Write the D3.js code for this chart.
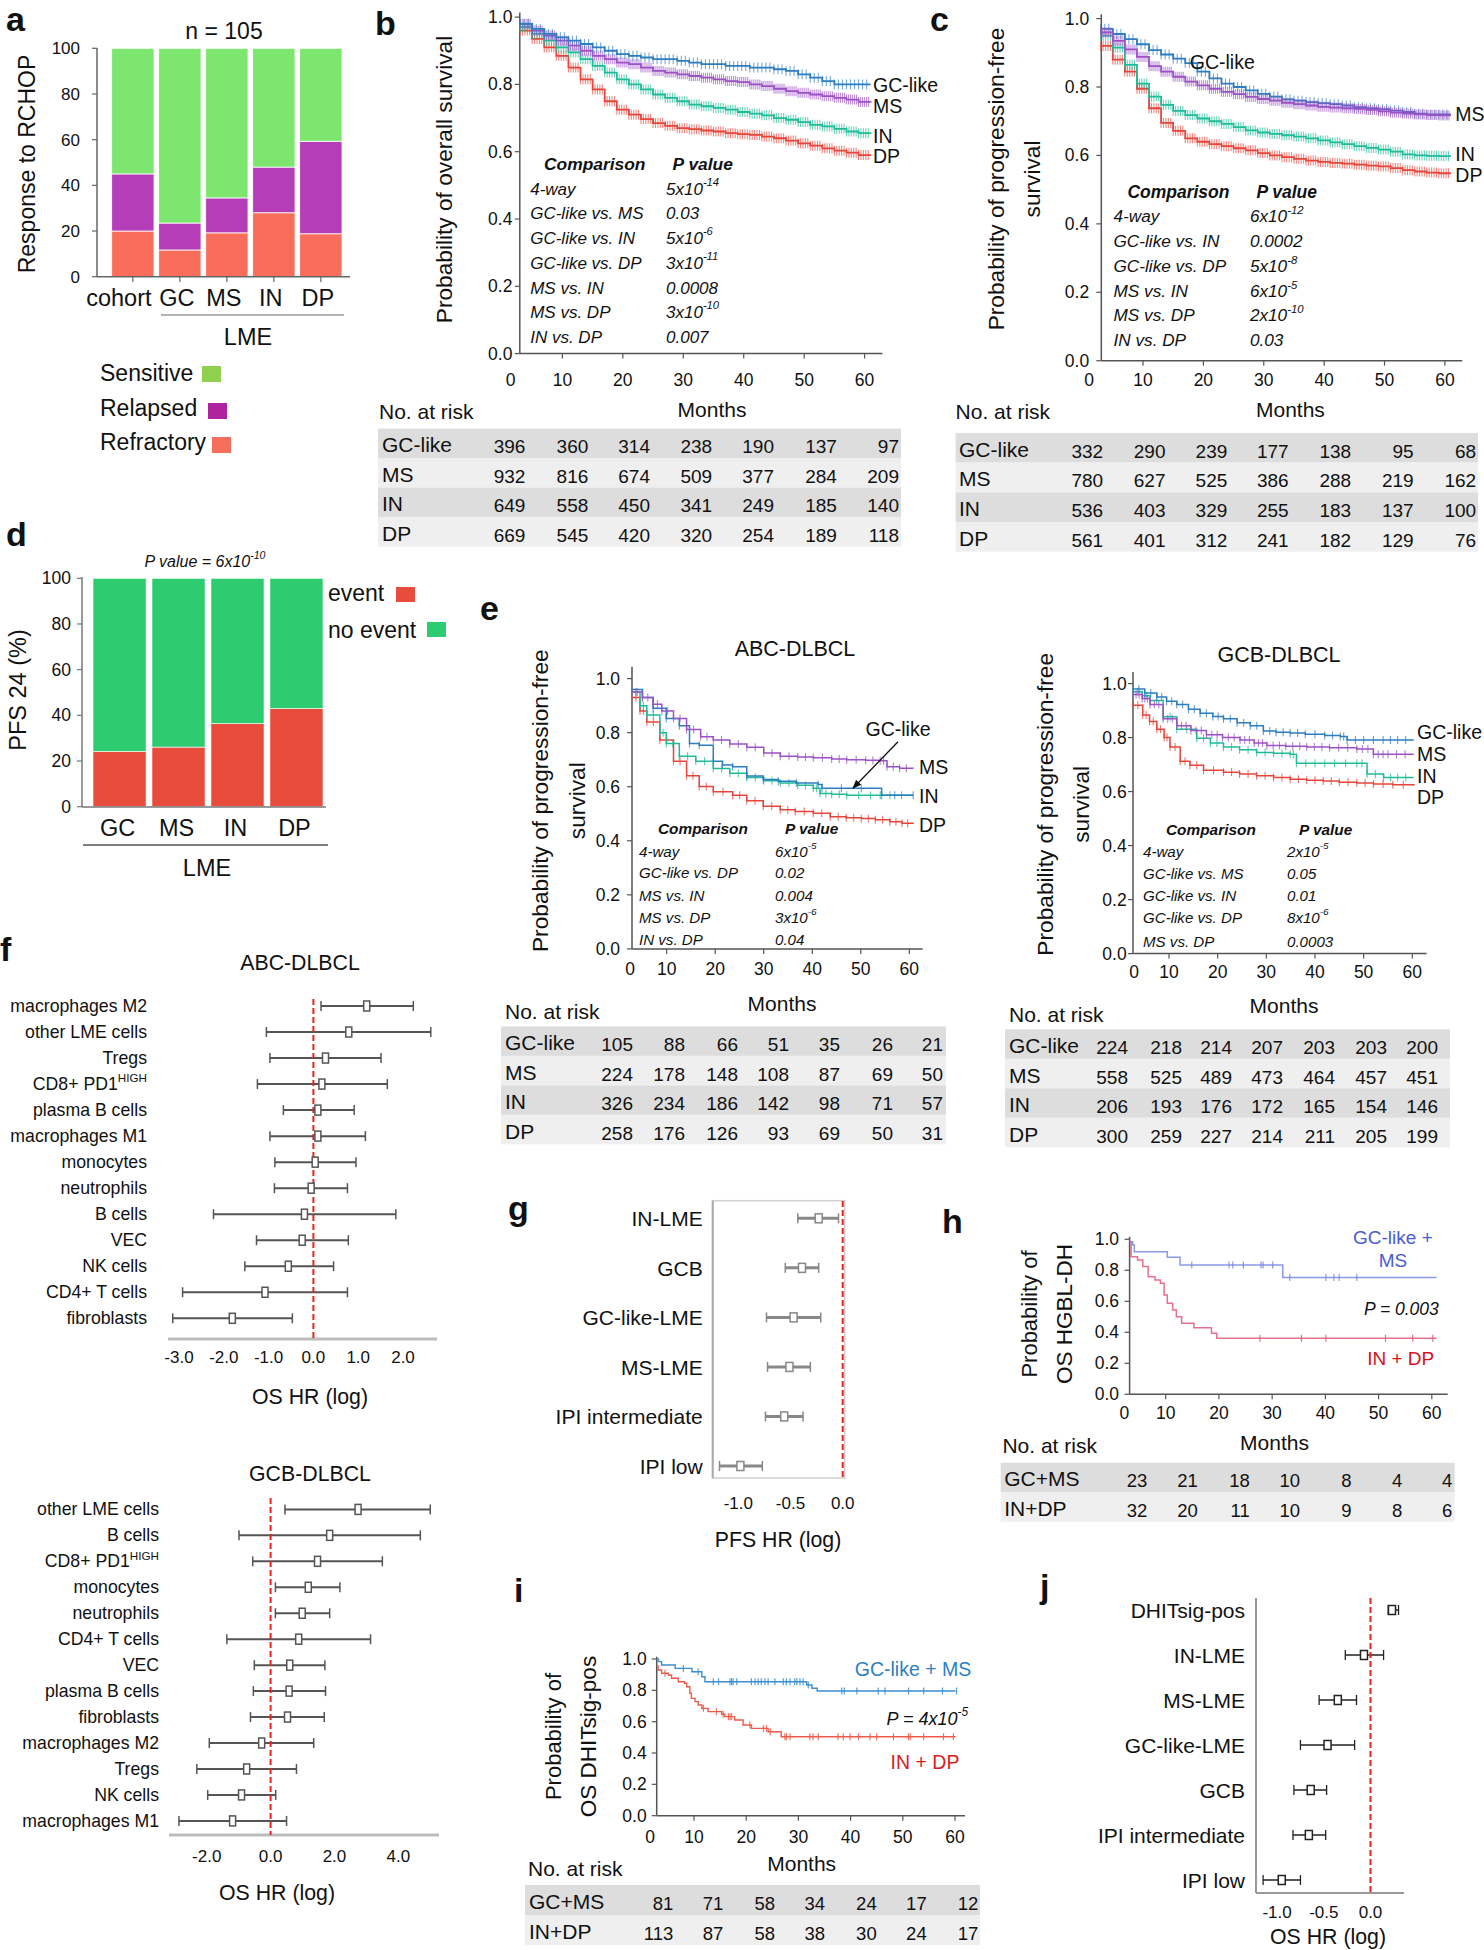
<!DOCTYPE html>
<html><head><meta charset="utf-8">
<script src="https://cdn.jsdelivr.net/npm/d3@7"></script>
<style>
body{margin:0;background:#fff}
svg{display:block}
text{font-family:"Liberation Sans",Arial,Helvetica,sans-serif;fill:#111}
</style>
</head><body>
<svg id="fig" width="1484" height="1950"></svg>
<script>
// ---------------- DATA ----------------
// panel a
const aCategories = ['cohort','GC','MS','IN','DP'];
const aKeys = ['Refractory','Relapsed','Sensitive'];
const aRefractory = [20, 11.7, 19.2, 28, 18.8];
const aRelapsed   = [25, 11.8, 15.3, 20, 40.5];
const aSensitive  = [55, 76.5, 65.5, 52, 40.7];
const aYTicks = [0,20,40,60,80,100];
// panel d
const dCategories = ['GC','MS','IN','DP'];
const dKeys = ['event','no event'];
const dEvent   = [24.2, 26.1, 36.4, 43];
const dNoEvent = [75.8, 73.9, 63.6, 57];
const dYTicks = [0,20,40,60,80,100];

// KM axes
const kmXTicks = [0,10,20,30,40,50,60];
const kmYTicks = [0,0.2,0.4,0.6,0.8,1.0];

// panel b (overall survival)
const bMonths = [3,5,7,9,11,13,15,17,19,21,23,25,27,29,31,33,35,37,39,41,43,45,47,49,51,53,55,57,59,61];
const bGC = [0.98,0.965,0.95,0.94,0.93,0.92,0.91,0.90,0.89,0.885,0.88,0.875,0.875,0.87,0.865,0.86,0.86,0.855,0.855,0.85,0.85,0.845,0.84,0.83,0.82,0.81,0.80,0.80,0.80,0.80];
const bMS = [0.98,0.96,0.945,0.93,0.915,0.90,0.885,0.875,0.865,0.86,0.85,0.84,0.835,0.83,0.825,0.82,0.815,0.81,0.807,0.80,0.795,0.787,0.78,0.775,0.77,0.765,0.76,0.755,0.748,0.746];
const bIN = [0.97,0.95,0.93,0.91,0.895,0.875,0.855,0.835,0.815,0.80,0.785,0.77,0.76,0.75,0.74,0.735,0.73,0.725,0.718,0.713,0.708,0.70,0.695,0.688,0.68,0.675,0.668,0.66,0.655,0.653];
const bDP = [0.96,0.935,0.91,0.885,0.85,0.815,0.785,0.75,0.725,0.71,0.697,0.685,0.677,0.67,0.667,0.663,0.66,0.655,0.652,0.65,0.645,0.64,0.633,0.625,0.618,0.61,0.603,0.597,0.59,0.589];
const bCompLabels = ['4-way','GC-like vs. MS','GC-like vs. IN','GC-like vs. DP','MS vs. IN','MS vs. DP','IN vs. DP'];
const bCompP = ['5x10^-14','0.03','5x10^-6','3x10^-11','0.0008','3x10^-10','0.007'];
const riskGroups = ['GC-like','MS','IN','DP'];
const bRiskGC = [396,360,314,238,190,137,97];
const bRiskMS = [932,816,674,509,377,284,209];
const bRiskIN = [649,558,450,341,249,185,140];
const bRiskDP = [669,545,420,320,254,189,118];

// panel c (PFS)
const cMonths = [3,5,7,9,11,13,15,17,19,21,23,25,27,29,31,33,35,37,39,41,43,45,47,49,51,53,55,57,59,61];
const cGC = [0.97,0.955,0.94,0.925,0.908,0.895,0.883,0.87,0.845,0.825,0.81,0.80,0.79,0.78,0.772,0.764,0.76,0.756,0.753,0.75,0.746,0.741,0.738,0.735,0.731,0.727,0.722,0.72,0.72,0.72];
const cMS = [0.96,0.935,0.91,0.888,0.861,0.845,0.83,0.816,0.805,0.795,0.786,0.779,0.771,0.765,0.76,0.754,0.75,0.746,0.742,0.74,0.738,0.736,0.733,0.729,0.725,0.722,0.72,0.718,0.717,0.717];
const cIN = [0.95,0.915,0.865,0.81,0.772,0.748,0.73,0.718,0.708,0.70,0.692,0.683,0.673,0.667,0.663,0.659,0.655,0.65,0.644,0.638,0.633,0.627,0.622,0.617,0.611,0.603,0.60,0.599,0.598,0.598];
const cDP = [0.92,0.88,0.845,0.795,0.738,0.695,0.672,0.65,0.64,0.633,0.627,0.621,0.615,0.607,0.60,0.595,0.59,0.585,0.581,0.578,0.576,0.573,0.57,0.568,0.563,0.557,0.553,0.55,0.548,0.548];
const cCompLabels = ['4-way','GC-like vs. IN','GC-like vs. DP','MS vs. IN','MS vs. DP','IN vs. DP'];
const cCompP = ['6x10^-12','0.0002','5x10^-8','6x10^-5','2x10^-10','0.03'];
const cRiskGC = [332,290,239,177,138,95,68];
const cRiskMS = [780,627,525,386,288,219,162];
const cRiskIN = [536,403,329,255,183,137,100];
const cRiskDP = [561,401,312,241,182,129,76];

// panel e ABC
const eaGCm = [2.8,5,7.2,9.9,12.6,14.7,16.7,19.6,21.5,23.6,26.5,29.9,33,36.7,41.2,42,46,50.1,54.3,57,60.8];
const eaGCv = [0.96,0.93,0.89,0.852,0.826,0.76,0.753,0.694,0.68,0.674,0.64,0.627,0.62,0.614,0.608,0.594,0.594,0.594,0.568,0.568,0.568];
const eaMSm = [2.8,5,7.2,9,11.4,14.1,17,19.6,23,26.5,30,33.4,37,40.2,44,47.1,51,54,55.4,58,60.8];
const eaMSv = [0.95,0.93,0.905,0.88,0.852,0.812,0.785,0.773,0.758,0.746,0.725,0.713,0.71,0.707,0.703,0.70,0.698,0.696,0.674,0.668,0.667];
const eaINm = [2.8,4.5,5.9,8.6,9.9,12.6,16,19.6,23,26.5,30,33.4,37,40.2,41.6,44,47.1,52,56,60.8];
const eaINv = [0.95,0.90,0.865,0.80,0.76,0.713,0.694,0.667,0.65,0.634,0.622,0.614,0.605,0.594,0.575,0.572,0.568,0.568,0.568,0.568];
const eaDPm = [2.8,4.5,5.9,8.6,11.4,14.1,16.7,19.6,23.6,26.5,29.9,33.4,36.5,40.2,43.7,47,50.1,53,56,58.5,60.8];
const eaDPv = [0.93,0.88,0.839,0.773,0.694,0.641,0.601,0.581,0.568,0.548,0.528,0.515,0.508,0.502,0.489,0.485,0.482,0.478,0.47,0.465,0.462];
const eaCompLabels = ['4-way','GC-like vs. DP','MS vs. IN','MS vs. DP','IN vs. DP'];
const eaCompP = ['6x10^-5','0.02','0.004','3x10^-6','0.04'];
const eaRiskGC = [105,88,66,51,35,26,21];
const eaRiskMS = [224,178,148,108,87,69,50];
const eaRiskIN = [326,234,186,142,98,71,57];
const eaRiskDP = [258,176,126,93,69,50,31];

// panel e GCB
const egGCm = [2.6,5,7.5,9.5,11.6,14,16.4,19,21.2,24,26.7,29.4,32,34.9,38,42,45.2,46.6,50,54,57,60.3];
const egGCv = [0.98,0.965,0.95,0.935,0.923,0.905,0.89,0.878,0.87,0.855,0.844,0.824,0.82,0.817,0.812,0.808,0.804,0.791,0.791,0.791,0.791,0.791];
const egMSm = [2.6,4.5,6.1,8.8,11.6,14.5,17.7,21,24.6,27.5,30.1,34,38.3,43,48.6,52,55,60.3];
const egMSv = [0.96,0.945,0.923,0.87,0.844,0.826,0.811,0.80,0.791,0.78,0.771,0.768,0.765,0.762,0.758,0.738,0.738,0.738];
const egINm = [2.6,4.5,6.1,8.8,11.6,15.7,18.5,21.2,24.5,28,31.5,34.9,36.2,40,44,48.6,50.7,54.1,57,60.3];
const egINv = [0.97,0.955,0.937,0.877,0.831,0.798,0.78,0.765,0.755,0.745,0.742,0.738,0.705,0.705,0.705,0.705,0.665,0.652,0.652,0.652];
const egDPm = [2.6,4.6,6,7.5,9,10.2,12.3,14.3,17.1,21.2,24.5,28,31.5,34.9,38.3,41.7,45,48.6,52,56,60.3];
const egDPv = [0.92,0.884,0.86,0.831,0.80,0.765,0.712,0.698,0.679,0.672,0.665,0.659,0.652,0.646,0.642,0.639,0.635,0.632,0.628,0.625,0.622];
const egCompLabels = ['4-way','GC-like vs. MS','GC-like vs. IN','GC-like vs. DP','MS vs. DP'];
const egCompP = ['2x10^-5','0.05','0.01','8x10^-6','0.0003'];
const egRiskGC = [224,218,214,207,203,203,200];
const egRiskMS = [558,525,489,473,464,457,451];
const egRiskIN = [206,193,176,172,165,154,146];
const egRiskDP = [300,259,227,214,211,205,199];

// panel f forest
const fABCCells = ['macrophages M2','other LME cells','Tregs','CD8+ PD1^HIGH','plasma B cells','macrophages M1','monocytes','neutrophils','B cells','VEC','NK cells','CD4+ T cells','fibroblasts'];
const fABCEst = [1.19,0.79,0.27,0.19,0.10,0.10,0.04,-0.05,-0.20,-0.25,-0.56,-1.08,-1.81];
const fABCLo  = [0.17,-1.05,-0.97,-1.25,-0.67,-0.97,-0.86,-0.87,-2.23,-1.27,-1.53,-2.92,-3.14];
const fABCHi  = [2.23,2.62,1.51,1.65,0.91,1.16,0.95,0.76,1.84,0.78,0.45,0.76,-0.47];
const fABCTicks = [-3,-2,-1,0,1,2];
const fGCBCells = ['other LME cells','B cells','CD8+ PD1^HIGH','monocytes','neutrophils','CD4+ T cells','VEC','plasma B cells','fibroblasts','macrophages M2','Tregs','NK cells','macrophages M1'];
const fGCBEst = [2.74,1.85,1.47,1.18,0.99,0.88,0.60,0.58,0.53,-0.28,-0.75,-0.91,-1.19];
const fGCBLo  = [0.45,-0.99,-0.56,0.15,0.15,-1.37,-0.51,-0.54,-0.63,-1.92,-2.31,-1.97,-2.87];
const fGCBHi  = [5.0,4.69,3.5,2.17,1.85,3.13,1.70,1.72,1.68,1.35,0.81,0.16,0.50];
const fGCBTicks = [-2,0,2,4];

// panel g
const gVars = ['IN-LME','GCB','GC-like-LME','MS-LME','IPI intermediate','IPI low'];
const gEst = [-0.23,-0.39,-0.47,-0.51,-0.56,-0.98];
const gLo  = [-0.43,-0.55,-0.73,-0.72,-0.74,-1.18];
const gHi  = [-0.04,-0.23,-0.21,-0.31,-0.38,-0.77];
const gTicks = [-1,-0.5,0];

// panel h
const hGMm = [3.2,3.8,4.1,10.3,12.7,32,60.9];
const hGMv = [0.985,0.963,0.92,0.884,0.834,0.753,0.753];
const hGMcens = [14.9,21.9,22.6,24.6,27.9,28.3,30.1,33.3,40.1,41.6,42.6,45.9];
const hIDm = [3.2,3.5,4.7,5.7,6.7,8.0,9.0,9.7,10.3,11.3,12.0,13.0,15.3,18.6,19.6,60.9];
const hIDv = [0.98,0.888,0.867,0.824,0.759,0.738,0.716,0.641,0.587,0.544,0.501,0.458,0.43,0.394,0.361,0.361];
const hIDcens = [27.7,35.5,40.1,51.3,56.4,60.2];
const hRiskGroups = ['GC+MS','IN+DP'];
const hRiskGM = [23,21,18,10,8,4,4];
const hRiskID = [32,20,11,10,9,8,6];

// panel i
const iGMm = [2.85,3.2,3.8,6.4,9.6,11.5,12.1,31.6,32.6,33.6,60.1];
const iGMv = [1.0,0.983,0.962,0.94,0.919,0.887,0.855,0.834,0.813,0.796,0.796];
const iGMcens = [7.96,10.8,13.7,14.7,16.9,17.2,17.5,18.2,21.0,21.7,22.3,22.9,23.6,24.2,25.5,27.1,27.7,28.4,29.3,29.7,30.3,30.9,31.9,38.3,38.8,41.2,45.3,46.6,51.1,54.0,57.6,60.3];
const iIDm = [2.85,3.1,3.8,5.1,5.7,7.0,8.2,8.6,9.2,9.5,10.2,10.8,11.5,12.7,15.3,15.9,17.8,19.4,21.0,24.2,26.7,60.1];
const iIDv = [0.955,0.93,0.909,0.898,0.877,0.855,0.845,0.823,0.781,0.749,0.728,0.706,0.685,0.664,0.647,0.632,0.611,0.579,0.557,0.536,0.504,0.504];
const iIDcens = [4.45,11.8,14.3,15.6,16.6,16.9,17.2,20.7,23.3,23.9,24.6,27.4,27.7,28.4,32.2,32.8,33.8,37.6,38.6,39.9,41.5,43.7,45.0,48.2,51.1,51.4,54.0,57.8,59.7];
const iRiskGM = [81,71,58,34,24,17,12];
const iRiskID = [113,87,58,38,30,24,17];

// panel j
const jVars = ['DHITsig-pos','IN-LME','MS-LME','GC-like-LME','GCB','IPI intermediate','IPI low'];
const jEst = [0.23,-0.07,-0.35,-0.46,-0.64,-0.66,-0.95];
const jLo  = [0.19,-0.27,-0.55,-0.75,-0.82,-0.83,-1.15];
const jHi  = [0.30,0.14,-0.15,-0.17,-0.47,-0.48,-0.75];
const jTicks = [-1,-0.5,0];

// colours
const C_BLUE = '#2d7dc1', C_PURPLE = '#9d52c6', C_TEAL = '#1fbc98', C_RED = '#e8453b';

// ---------------- HELPERS ----------------
const svg = d3.select('#fig');
svg.append('rect').attr('width',1484).attr('height',1950).attr('fill','#fff');
const defs = svg.append('defs');
defs.append('marker').attr('id','arr').attr('viewBox','0 0 10 10').attr('refX',9).attr('refY',5)
  .attr('markerWidth',7).attr('markerHeight',7).attr('orient','auto')
  .append('path').attr('d','M0,1 L10,5 L0,9 Z').attr('fill','#111');

function T(g, x, y, s, o = {}) {
  const fs = o.fs || 18;
  const t = g.append('text').attr('x', x).attr('y', y)
    .attr('font-size', fs)
    .attr('text-anchor', o.a || 'start')
    .attr('dominant-baseline', o.db || 'central');
  if (o.w) t.attr('font-weight', o.w);
  if (o.it) t.attr('font-style', 'italic');
  if (o.fill) t.style('fill', o.fill);
  if (o.rot) t.attr('transform', `rotate(${o.rot},${x},${y})`);
  const parts = String(s).split('^');
  t.append('tspan').text(parts[0]);
  if (parts[1]) t.append('tspan').attr('dy', -fs * 0.38).attr('font-size', fs * 0.66).text(parts[1]);
  return t;
}
function L(g, x1, y1, x2, y2, c, w, dash) {
  const l = g.append('line').attr('x1', x1).attr('y1', y1).attr('x2', x2).attr('y2', y2)
    .attr('stroke', c).attr('stroke-width', w);
  if (dash) l.attr('stroke-dasharray', dash);
  return l;
}
function stepVal(ms, vs, t) {
  const i = Math.max(0, d3.bisectRight(ms, t) - 1);
  return vs[i];
}

function km(c) {
  const g = svg.append('g');
  const x = d3.scaleLinear().domain([10, 60]).range([c.x10, c.x60]);
  const y = d3.scaleLinear().domain([0, 1]).range([c.y0, c.y1]);
  const ac = '#555';
  L(g, c.ax, c.y0, c.ax, c.yTop, ac, 1.5);
  L(g, c.ax, c.y0, c.axEnd, c.y0, ac, 1.5);
  kmYTicks.forEach(t => {
    L(g, c.ax - 5, y(t), c.ax, y(t), ac, 1.2);
    T(g, c.ylx, y(t), t.toFixed(1), {fs: 17.5, a: 'end'});
  });
  kmXTicks.forEach(t => {
    if (t > 0) L(g, x(t), c.y0, x(t), c.y0 + 5, ac, 1.2);
    T(g, t === 0 ? c.zeroX : x(t), c.tlY, String(t), {fs: 17.5, a: 'middle'});
  });
  const line = d3.line().curve(d3.curveStepAfter);
  c.series.forEach(s => {
    const pts = s.m.map((m, i) => [x(m), y(s.v[i])]);
    g.append('path').attr('d', line(pts)).attr('fill', 'none').attr('stroke', s.c)
      .attr('stroke-width', c.lw || 1.6).attr('stroke-opacity', c.lo || 1);
    let cens = s.cens || s.m.slice(1);
    if (s.dense) {
      cens = [];
      s.m.slice(0, -1).forEach((m, i) => {
        for (let k = 0; k < s.dense; k++) cens.push(m + (s.m[i + 1] - m) * k / s.dense);
      });
    }
    cens.forEach(t => {
      const v = stepVal(s.m, s.v, t);
      L(g, x(t), y(v) - c.ch, x(t), y(v) + c.ch, s.c, c.cw || 1.2).attr('stroke-opacity', c.co || 0.8);
    });
  });
  c.yLab.forEach(l => T(g, l.x, c.yLabY, l.t, {fs: l.fs || 22.7, a: 'middle', rot: -90}));
  T(g, c.monthsX, c.monthsY, 'Months', {fs: 21, a: 'middle'});
  if (c.labels) c.labels.forEach(l => T(g, l.x, l.y, l.t, {fs: l.fs || 19.5, a: l.a || 'start', fill: l.fill, it: l.it}));
  return {g, x, y};
}

function comp(c) {
  const g = svg.append('g');
  T(g, c.hx1, c.hy, 'Comparison', {fs: c.hfs, w: 'bold', it: true});
  T(g, c.hx2, c.hy, 'P value', {fs: c.hfs, w: 'bold', it: true});
  c.labels.forEach((l, i) => {
    T(g, c.lx, c.rows[i], l, {fs: c.fs, it: true});
    T(g, c.vx, c.rows[i], c.vals[i], {fs: c.fs, it: true});
  });
}

function risk(c) {
  const g = svg.append('g');
  T(g, c.titleX, c.titleY, 'No. at risk', {fs: 21});
  c.data.forEach((vals, i) => {
    const top = c.top + i * c.rh;
    g.append('rect').attr('x', c.x0).attr('y', top).attr('width', c.x1 - c.x0).attr('height', c.rh)
      .attr('fill', i % 2 ? '#efefef' : '#dddddd');
    T(g, c.lx, top + c.rh / 2 + 1, c.groups[i], {fs: c.lfs || 21});
    vals.forEach((v, j) => T(g, c.cols[j], top + c.rh / 2 + 3, v, {fs: c.nfs || 19, a: 'end'}));
  });
}

function forest(c) {
  const g = svg.append('g');
  const x = d3.scaleLinear().domain([0, 1]).range([c.zero, c.zero + c.unit]);
  const y = d3.scalePoint().domain(c.labels).range([c.yFirst, c.yLast]);
  c.labels.forEach(l => T(g, c.lx, y(l), l, {fs: c.lfs, a: 'end'}));
  c.ticks.forEach(t => T(g, x(t), c.tlY, t.toFixed(1), {fs: 17, a: 'middle'}));
  if (c.axisFn) c.axisFn(g, x, y);
  c.labels.forEach((l, i) => {
    const yy = y(l);
    L(g, x(c.lo[i]), yy, x(c.hi[i]), yy, c.col, c.bw);
    L(g, x(c.lo[i]), yy - c.cap, x(c.lo[i]), yy + c.cap, c.col, c.capw || 1.5);
    L(g, x(c.hi[i]), yy - c.cap, x(c.hi[i]), yy + c.cap, c.col, c.capw || 1.5);
  });
  L(g, x(0), c.rTop, x(0), c.rBot, '#e8231c', 2, '6,3');
  c.labels.forEach((l, i) => {
    g.append('rect').attr('x', x(c.est[i]) - c.boxW / 2).attr('y', y(l) - c.boxH / 2)
      .attr('width', c.boxW).attr('height', c.boxH).attr('fill', '#fff')
      .attr('stroke', c.col).attr('stroke-width', 1.5);
  });
  return {g, x, y};
}

// ---------------- PANEL LETTERS ----------------
[['a',6,31],['b',375,35],['c',930,31],['d',6,546],['e',480,620],['f',0,961],['g',508,1220],['h',942,1233],['i',514,1602],['j',1040,1598]]
  .forEach(([s, x, y]) => T(svg, x, y, s, {fs: 34, w: 'bold', db: 'auto'}));

// ---------------- PANEL A ----------------
(function () {
  const g = svg.append('g');
  const x = d3.scaleBand().domain(aCategories).range([111.7, 342]).paddingInner(0.1);
  const y = d3.scaleLinear().domain([0, 100]).range([276.7, 48.3]);
  const cols = ['#f86e5b', '#b53db7', '#7de66f'];
  const rows = aCategories.map((c, i) => ({cat: c, Refractory: aRefractory[i], Relapsed: aRelapsed[i], Sensitive: aSensitive[i]}));
  d3.stack().keys(aKeys)(rows).forEach((layer, k) => {
    g.selectAll(null).data(layer).enter().append('rect')
      .attr('x', d => x(d.data.cat)).attr('width', x.bandwidth())
      .attr('y', d => y(d[1])).attr('height', d => y(d[0]) - y(d[1]))
      .attr('fill', cols[k]).attr('stroke', '#fff').attr('stroke-width', 0.8);
  });
  L(g, 97, 276.7, 97, 48, '#666', 1.5);
  L(g, 97, 276.7, 350, 276.7, '#666', 1.5);
  aYTicks.forEach(t => { L(g, 92, y(t), 97, y(t), '#666', 1.2); T(g, 80, y(t), t, {fs: 17, a: 'end'}); });
  aCategories.forEach(c => {
    const cx = x(c) + x.bandwidth() / 2;
    L(g, cx, 276.7, cx, 282, '#666', 1.2);
    T(g, cx - (c === 'cohort' ? 14 : 3), 298, c, {fs: 23.5, a: 'middle'});
  });
  L(g, 161, 315, 344, 315, '#666', 1.2);
  T(g, 248, 337, 'LME', {fs: 23.5, a: 'middle'});
  T(g, 224, 31, 'n = 105', {fs: 23, a: 'middle'});
  T(g, 27, 164, 'Response to RCHOP', {fs: 23, a: 'middle', rot: -90});
  const leg = [['Sensitive', 100, 373, '#8fd14f', 202, 366], ['Relapsed', 100, 408, '#b0239f', 208, 403], ['Refractory', 100, 442, '#f56f5a', 212, 437]];
  leg.forEach(([t, tx, ty, col, sx, sy]) => {
    T(g, tx, ty, t, {fs: 23});
    g.append('rect').attr('x', sx).attr('y', sy).attr('width', 19).attr('height', 16).attr('fill', col);
  });
})();

// ---------------- PANEL D ----------------
(function () {
  const g = svg.append('g');
  const x = d3.scaleBand().domain(dCategories).range([93, 323]).paddingInner(0.1);
  const y = d3.scaleLinear().domain([0, 100]).range([806.7, 578.3]);
  const cols = ['#e74c3c', '#2ecc71'];
  const rows = dCategories.map((c, i) => ({cat: c, 'event': dEvent[i], 'no event': dNoEvent[i]}));
  d3.stack().keys(dKeys)(rows).forEach((layer, k) => {
    g.selectAll(null).data(layer).enter().append('rect')
      .attr('x', d => x(d.data.cat)).attr('width', x.bandwidth())
      .attr('y', d => y(d[1])).attr('height', d => y(d[0]) - y(d[1]))
      .attr('fill', cols[k]).attr('stroke', '#fff').attr('stroke-width', 0.6);
  });
  L(g, 82, 807, 82, 577, '#777', 1.5);
  L(g, 82, 807, 326, 807, '#777', 1.5);
  dYTicks.forEach(t => { L(g, 77, y(t), 82, y(t), '#777', 1.2); T(g, 71, y(t), t, {fs: 17.5, a: 'end'}); });
  dCategories.forEach(c => T(g, x(c) + x.bandwidth() / 2 - 2, 828, c, {fs: 23.5, a: 'middle'}));
  L(g, 83, 845, 328, 845, '#555', 1.3);
  T(g, 207, 868, 'LME', {fs: 23.5, a: 'middle'});
  T(g, 205, 561, 'P value = 6x10^-10', {fs: 16, a: 'middle', it: true});
  T(g, 18, 690, 'PFS 24 (%)', {fs: 23.5, a: 'middle', rot: -90});
  T(g, 328, 593, 'event', {fs: 23});
  g.append('rect').attr('x', 396).attr('y', 587).attr('width', 19).attr('height', 15).attr('fill', cols[0]);
  T(g, 328, 630, 'no event', {fs: 23});
  g.append('rect').attr('x', 427).attr('y', 622).attr('width', 19).attr('height', 15).attr('fill', cols[1]);
})();

// ---------------- PANEL B ----------------
km({ax: 519.8, yTop: 12.5, axEnd: 882.4, x10: 562.4, x60: 864.6, y0: 353.6, y1: 17.1, zeroX: 510.6, ylx: 512.4, tlY: 380.4,
  lw: 1.8, ch: 5, cw: 1.1, co: 0.65,
  series: [{m: bMonths, v: bDP, c: C_RED, dense: 5}, {m: bMonths, v: bIN, c: C_TEAL, dense: 5}, {m: bMonths, v: bMS, c: C_PURPLE, dense: 6}, {m: bMonths, v: bGC, c: C_BLUE, dense: 3}],
  yLab: [{x: 444, t: 'Probability of overall survival'}], yLabY: 179.5,
  monthsX: 712, monthsY: 409,
  labels: [{x: 873, y: 84.6, t: 'GC-like'}, {x: 873, y: 106, t: 'MS'}, {x: 873, y: 135.7, t: 'IN'}, {x: 873, y: 156, t: 'DP'}]});
comp({hx1: 544, hx2: 672.6, hy: 163.6, hfs: 17.4, fs: 17, lx: 530.2, vx: 666, rows: [188.6, 213.2, 237.5, 262.5, 287.5, 311.8, 336.8], labels: bCompLabels, vals: bCompP});
risk({titleX: 379, titleY: 410.7, x0: 378, x1: 901, top: 428.6, rh: 29.5, lx: 382, cols: [525.4, 588.3, 650, 712.2, 774, 836.9, 899],
  groups: riskGroups, data: [bRiskGC, bRiskMS, bRiskIN, bRiskDP]});

// ---------------- PANEL C ----------------
km({ax: 1101.3, yTop: 14.3, axEnd: 1462.2, x10: 1143, x60: 1444.9, y0: 360.7, y1: 18.6, zeroX: 1089.2, ylx: 1089.2, tlY: 380.4,
  lw: 1.8, ch: 5, cw: 1.1, co: 0.65,
  series: [{m: cMonths, v: cDP, c: C_RED, dense: 5}, {m: cMonths, v: cIN, c: C_TEAL, dense: 5}, {m: cMonths, v: cGC, c: C_BLUE, dense: 3}, {m: cMonths, v: cMS, c: C_PURPLE, dense: 6}],
  yLab: [{x: 995.5, t: 'Probability of progression-free'}, {x: 1032, t: 'survival'}], yLabY: 179,
  monthsX: 1290.4, monthsY: 409,
  labels: [{x: 1189.8, y: 61.8, t: 'GC-like'}, {x: 1455.3, y: 114.3, t: 'MS'}, {x: 1455.3, y: 154.3, t: 'IN'}, {x: 1455.3, y: 175, t: 'DP'}]});
comp({hx1: 1127.4, hx2: 1256.4, hy: 191.8, hfs: 17.5, fs: 17.2, lx: 1113.5, vx: 1249.9, rows: [216.1, 241.1, 266.1, 291.1, 315.4, 340.4], labels: cCompLabels, vals: cCompP});
risk({titleX: 955.6, titleY: 410.7, x0: 955.6, x1: 1478, top: 432.9, rh: 29.7, lx: 959, cols: [1103.1, 1165.5, 1227.3, 1288.7, 1351.2, 1413.6, 1476.1],
  groups: riskGroups, data: [cRiskGC, cRiskMS, cRiskIN, cRiskDP]});

// ---------------- PANEL E (ABC) ----------------
(function () {
  const r = km({ax: 632, yTop: 666.8, axEnd: 922.7, x10: 666.7, x60: 909.3, y0: 948.9, y1: 678.6, zeroX: 630, ylx: 620, tlY: 969.3,
    lw: 1.5, ch: 4, cw: 1.1, co: 0.75,
    series: [{m: eaDPm, v: eaDPv, c: C_RED, dense: 2}, {m: eaINm, v: eaINv, c: C_TEAL, dense: 2}, {m: eaGCm, v: eaGCv, c: C_BLUE}, {m: eaMSm, v: eaMSv, c: C_PURPLE, dense: 2}],
    yLab: [{x: 540, t: 'Probability of progression-free'}, {x: 577, t: 'survival'}], yLabY: 800.7,
    monthsX: 782, monthsY: 1002.5,
    labels: [{x: 898, y: 729.3, t: 'GC-like', a: 'middle'}, {x: 919, y: 766.8, t: 'MS'}, {x: 919, y: 796.1, t: 'IN'}, {x: 919, y: 824.6, t: 'DP'}]});
  T(r.g, 795, 648.9, 'ABC-DLBCL', {fs: 21.5, a: 'middle'});
  L(r.g, 898, 741.8, 853, 788.2, '#111', 1.3).attr('marker-end', 'url(#arr)');
})();
comp({hx1: 658, hx2: 785, hy: 827.5, hfs: 15.4, fs: 15.1, lx: 639, vx: 775, rows: [850.7, 872.1, 895.4, 916.8, 939.3], labels: eaCompLabels, vals: eaCompP});
risk({titleX: 505, titleY: 1011.4, x0: 501, x1: 946, top: 1026.4, rh: 29.5, lx: 505, cols: [633, 685, 738, 789, 840, 893, 943],
  groups: riskGroups, data: [eaRiskGC, eaRiskMS, eaRiskIN, eaRiskDP]});

// ---------------- PANEL E (GCB) ----------------
(function () {
  const r = km({ax: 1133, yTop: 672.1, axEnd: 1426.7, x10: 1169, x60: 1412.3, y0: 953.6, y1: 683.6, zeroX: 1134, ylx: 1126.7, tlY: 972.1,
    lw: 1.5, ch: 4, cw: 1.1, co: 0.75,
    series: [{m: egDPm, v: egDPv, c: C_RED, dense: 2}, {m: egINm, v: egINv, c: C_TEAL, dense: 2}, {m: egMSm, v: egMSv, c: C_PURPLE, dense: 3}, {m: egGCm, v: egGCv, c: C_BLUE, dense: 2}],
    yLab: [{x: 1045, t: 'Probability of progression-free'}, {x: 1081, t: 'survival'}], yLabY: 804.3,
    monthsX: 1284, monthsY: 1005,
    labels: [{x: 1417, y: 732.1, t: 'GC-like'}, {x: 1417, y: 754.3, t: 'MS'}, {x: 1417, y: 775.7, t: 'IN'}, {x: 1417, y: 797.1, t: 'DP'}]});
  T(r.g, 1279, 655, 'GCB-DLBCL', {fs: 21.5, a: 'middle'});
})();
comp({hx1: 1166, hx2: 1299, hy: 828.6, hfs: 15.4, fs: 15.1, lx: 1143, vx: 1287, rows: [850.7, 873.2, 895.4, 916.8, 941.1], labels: egCompLabels, vals: egCompP});
risk({titleX: 1009, titleY: 1014.3, x0: 1005, x1: 1450, top: 1029.3, rh: 29.5, lx: 1009, cols: [1128, 1182, 1232, 1283, 1335, 1387, 1438],
  groups: riskGroups, data: [egRiskGC, egRiskMS, egRiskIN, egRiskDP]});

// ---------------- PANEL F ----------------
(function () {
  const r = forest({labels: fABCCells, est: fABCEst, lo: fABCLo, hi: fABCHi, zero: 313.4, unit: 44.8,
    yFirst: 1006, yLast: 1318.3, lx: 147, lfs: 17.7, ticks: fABCTicks, tlY: 1357.3,
    col: '#555', bw: 2, cap: 5, boxW: 6, boxH: 10, rTop: 999, rBot: 1339,
    axisFn: (g) => L(g, 168, 1339, 437, 1339, '#bbb', 3)});
  T(r.g, 300, 963, 'ABC-DLBCL', {fs: 21.3, a: 'middle'});
  T(r.g, 310, 1397, 'OS HR (log)', {fs: 21.3, a: 'middle'});
})();
(function () {
  const r = forest({labels: fGCBCells, est: fGCBEst, lo: fGCBLo, hi: fGCBHi, zero: 270.6, unit: 31.93,
    yFirst: 1509.4, yLast: 1820.9, lx: 159, lfs: 17.7, ticks: fGCBTicks, tlY: 1856,
    col: '#555', bw: 2, cap: 5, boxW: 6, boxH: 10, rTop: 1498, rBot: 1835,
    axisFn: (g) => L(g, 169, 1835, 439, 1835, '#bbb', 3)});
  T(r.g, 310, 1473.7, 'GCB-DLBCL', {fs: 21.3, a: 'middle'});
  T(r.g, 277, 1892.8, 'OS HR (log)', {fs: 21.3, a: 'middle'});
})();

// ---------------- PANEL G ----------------
(function () {
  const r = forest({labels: gVars, est: gEst, lo: gLo, hi: gHi, zero: 842.7, unit: 104.4,
    yFirst: 1218.3, yLast: 1466, lx: 702.7, lfs: 21, ticks: gTicks, tlY: 1503,
    col: '#888', bw: 3, cap: 5, capw: 1.5, boxW: 7, boxH: 9, rTop: 1201, rBot: 1478,
    axisFn: (g) => {
      g.append('rect').attr('x', 712.7).attr('y', 1200.7).attr('width', 132).attr('height', 277.3)
        .attr('fill', 'none').attr('stroke', '#cfcfcf').attr('stroke-width', 1.5);
      L(g, 712.7, 1200.7, 712.7, 1478, '#aaa', 2);
    }});
  T(r.g, 778, 1540, 'PFS HR (log)', {fs: 21.3, a: 'middle'});
})();

// ---------------- PANEL H ----------------
km({ax: 1129.6, yTop: 1236.7, axEnd: 1447.7, x10: 1165.7, x60: 1431.8, y0: 1394.3, y1: 1239.3, zeroX: 1124.3, ylx: 1119, tlY: 1413.3,
  lw: 1.5, lo: 0.85, ch: 3.5, cw: 1.2, co: 0.85,
  series: [{m: hGMm, v: hGMv, c: '#7787e3', cens: hGMcens}, {m: hIDm, v: hIDv, c: '#e2577a', cens: hIDcens}],
  yLab: [{x: 1028.9, t: 'Probability of', fs: 22}, {x: 1064.3, t: 'OS HGBL-DH', fs: 22.5}], yLabY: 1314,
  monthsX: 1274.5, monthsY: 1441.7,
  labels: [{x: 1392.9, y: 1236.7, t: 'GC-like +', a: 'middle', fill: '#4a5bd6', fs: 19},
    {x: 1392.9, y: 1260, t: 'MS', a: 'middle', fill: '#4a5bd6', fs: 19},
    {x: 1438.8, y: 1309.3, t: 'P = 0.003', a: 'end', it: true, fs: 17.5},
    {x: 1400.7, y: 1358.3, t: 'IN + DP', a: 'middle', fill: '#d4131d', fs: 19}]});
risk({titleX: 1002.4, titleY: 1445, x0: 1000.7, x1: 1454.7, top: 1462.7, rh: 29.5, lx: 1004.2, lfs: 21, nfs: 18.5,
  cols: [1147.3, 1197.8, 1249.8, 1300, 1351.6, 1402.4, 1452.3], groups: hRiskGroups, data: [hRiskGM, hRiskID]});

// ---------------- PANEL I ----------------
km({ax: 656.7, yTop: 1656.7, axEnd: 965, x10: 694, x60: 955, y0: 1815.7, y1: 1659, zeroX: 650, ylx: 646.7, tlY: 1836.7,
  lw: 1.4, ch: 3.5, cw: 1.2, co: 0.85,
  series: [{m: iGMm, v: iGMv, c: '#3b8ed0', cens: iGMcens}, {m: iIDm, v: iIDv, c: '#ee5a4a', cens: iIDcens}],
  yLab: [{x: 553, t: 'Probability of', fs: 22}, {x: 588, t: 'OS DHITsig-pos', fs: 22.5}], yLabY: 1736.5,
  monthsX: 801.7, monthsY: 1863,
  labels: [{x: 913, y: 1669, t: 'GC-like + MS', a: 'middle', fill: '#2d7fc4', fs: 19.5},
    {x: 968, y: 1719, t: 'P = 4x10^-5', a: 'end', it: true, fs: 18},
    {x: 925, y: 1762, t: 'IN + DP', a: 'middle', fill: '#d81d1d', fs: 19.5}]});
risk({titleX: 528, titleY: 1868, x0: 525, x1: 980, top: 1885, rh: 30, lx: 529, lfs: 21, nfs: 18.5,
  cols: [673.3, 723.3, 775, 825, 876.7, 926.7, 978.3], groups: hRiskGroups, data: [iRiskGM, iRiskID]});

// ---------------- PANEL J ----------------
(function () {
  const r = forest({labels: jVars, est: jEst, lo: jLo, hi: jHi, zero: 1370.5, unit: 93.4,
    yFirst: 1610, yLast: 1880, lx: 1245, lfs: 21, ticks: jTicks, tlY: 1911.7,
    col: '#222', bw: 1.5, cap: 5, capw: 1.3, boxW: 7, boxH: 9, rTop: 1598, rBot: 1893,
    axisFn: (g) => {
      L(g, 1256, 1598, 1256, 1893, '#999', 2);
      L(g, 1256, 1893, 1404, 1893, '#999', 2);
    }});
  T(r.g, 1328, 1937, 'OS HR (log)', {fs: 21.3, a: 'middle'});
})();
</script>
</body></html>
